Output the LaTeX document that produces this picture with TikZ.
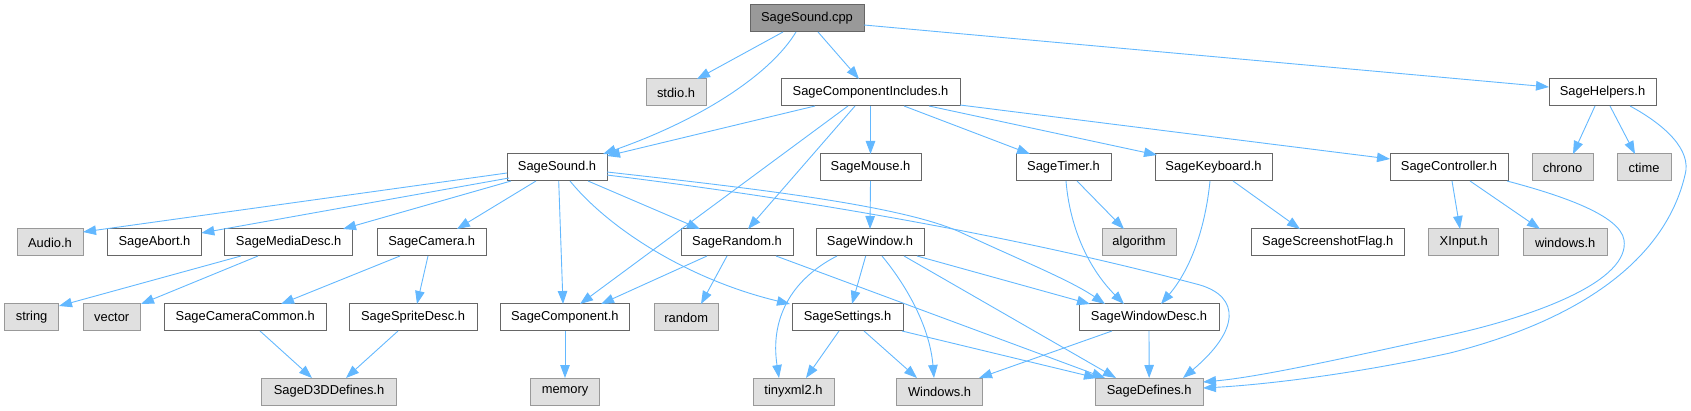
\documentclass[tikz,border=0pt]{standalone}
\usepackage{fontspec}
\setmainfont{Liberation Sans}
\usetikzlibrary{arrows.meta,calc}
\definecolor{edgec}{HTML}{63B8FF}
\definecolor{bordc}{HTML}{666666}
\definecolor{extb}{HTML}{999999}
\definecolor{extf}{HTML}{E0E0E0}
\definecolor{rootf}{HTML}{999999}
\begin{document}
\begin{tikzpicture}[x=1pt,y=-1pt,
  box/.style={draw=bordc, fill=white, line width=1pt, rectangle, inner sep=0pt, outer sep=0pt,
    anchor=north west, minimum height=27pt, font=\fontsize{12.9}{15}\selectfont, text=black},
  ext/.style={box, draw=extb, fill=extf},
  root/.style={box, fill=rootf},
  edge/.style={draw=edgec, line width=0.9pt, -{Triangle[length=13pt,width=9.5pt]}}]
\useasboundingbox (0,0) rectangle (1691,411);
% row 0
\node[root, minimum width=114pt] (cpp) at (750,5) {SageSound.cpp};
% row 1
\node[ext, minimum width=60pt] (stdio) at (646,79) {stdio.h};
\node[box, minimum width=179pt] (inc) at (781,79) {SageComponentIncludes.h};
\node[box, minimum width=107pt] (helpers) at (1549,79) {SageHelpers.h};
% row 2
\node[box, minimum width=100pt] (sound) at (507,154) {SageSound.h};
\node[box, minimum width=101pt] (mouse) at (820,154) {SageMouse.h};
\node[box, minimum width=95pt] (timer) at (1016,154) {SageTimer.h};
\node[box, minimum width=117pt] (keyboard) at (1155,154) {SageKeyboard.h};
\node[box, minimum width=118pt] (controller) at (1390,154) {SageController.h};
\node[ext, minimum width=61pt] (chrono) at (1532,154) {chrono};
\node[ext, minimum width=54pt] (ctime) at (1617,154) {ctime};
% row 3
\node[ext, minimum width=66pt] (audio) at (17,229) {Audio.h};
\node[box, minimum width=94pt] (abort) at (107.5,229) {SageAbort.h};
\node[box, minimum width=128.2pt] (media) at (224.6,229) {SageMediaDesc.h};
\node[box, minimum width=108.7pt] (camera) at (377.3,229) {SageCamera.h};
\node[box, minimum width=112pt] (srandom) at (681,229) {SageRandom.h};
\node[box, minimum width=108pt] (window) at (816,229) {SageWindow.h};
\node[ext, minimum width=74pt] (algorithm) at (1102,229) {algorithm};
\node[box, minimum width=153.5pt] (screenshot) at (1251,229) {SageScreenshotFlag.h};
\node[ext, minimum width=70pt] (xinput) at (1428.7,229) {XInput.h};
\node[ext, minimum width=83.7pt] (windowsl) at (1523.3,229) {windows.h};
% row 4
\node[ext, minimum width=54pt] (string) at (4.6,304) {string};
\node[ext, minimum width=57.4pt] (vector) at (83,304) {vector};
\node[box, minimum width=161.5pt] (camcommon) at (164.5,304) {SageCameraCommon.h};
\node[box, minimum width=128pt] (sprite) at (349,304) {SageSpriteDesc.h};
\node[box, minimum width=129.6pt] (component) at (500,304) {SageComponent.h};
\node[ext, minimum width=64.4pt] (random) at (654,304) {random};
\node[box, minimum width=111pt] (settings) at (792,304) {SageSettings.h};
\node[box, minimum width=140pt] (windesc) at (1079,304) {SageWindowDesc.h};
% row 5
\node[ext, minimum width=134.7pt] (d3d) at (261.7,378) {SageD3DDefines.h};
\node[ext, minimum width=68.8pt] (memory) at (530.7,378) {memory};
\node[ext, minimum width=81pt] (tinyxml) at (753,378) {tinyxml2.h};
\node[ext, minimum width=86.5pt] (Windows) at (896.3,378) {Windows.h};
\node[ext, minimum width=107.7pt] (defines) at (1095.3,378) {SageDefines.h};

% edges from SageSound.cpp
\draw[edge] ($(cpp.north west)+(33,27)$) -- ($(stdio.north west)+(51,0)$);
\draw[edge] ($(cpp.north west)+(46,27)$) .. controls (770,75) and (700,120) .. ($(sound.north west)+(96,0)$);
\draw[edge] ($(cpp.north west)+(68,27)$) -- ($(inc.north west)+(78,0)$);
\draw[edge] ($(cpp.north west)+(114,20)$) -- ($(helpers.north west)+(0,8)$);
% edges from SageComponentIncludes.h
\draw[edge] ($(inc.north west)+(34,27)$) -- ($(sound.north west)+(100,2)$);
\draw[edge] ($(inc.north west)+(67,27)$) -- ($(component.north west)+(80,0)$);
\draw[edge] ($(inc.north west)+(74,27)$) -- ($(srandom.north west)+(67,0)$);
\draw[edge] (inc.south) -- (mouse.north);
\draw[edge] ($(inc.north west)+(123,27)$) -- ($(timer.north west)+(14,0)$);
\draw[edge] ($(inc.north west)+(148,27)$) -- ($(keyboard.north west)+(2,1)$);
\draw[edge] ($(inc.north west)+(179,26)$) -- ($(controller.north west)+(0,5)$);
% edges from SageHelpers.h
\draw[edge] ($(helpers.north west)+(46,27)$) -- ($(chrono.north west)+(41,0)$);
\draw[edge] ($(helpers.north west)+(61,27)$) -- ($(ctime.north west)+(18,0)$);
\draw[edge] ($(helpers.north west)+(81,27)$) .. controls (1665,125) and (1692,150) .. (1685,175)
  .. controls (1665,260) and (1580,320) .. (1450,353)
  .. controls (1350,375) and (1260,385) .. ($(defines.north east)+(0,10)$);
% edges from SageTimer.h
\draw[edge] ($(timer.north west)+(61,27)$) -- ($(algorithm.north west)+(22,0)$);
\draw[edge] ($(timer.north west)+(50,27)$) .. controls (1070,230) and (1090,270) .. ($(windesc.north west)+(45,0)$);
% edges from SageKeyboard.h
\draw[edge] ($(keyboard.north west)+(78,27)$) -- ($(screenshot.north west)+(49,0)$);
\draw[edge] ($(keyboard.north west)+(55,27)$) .. controls (1205,230) and (1190,270) .. ($(windesc.north west)+(82,0)$);
% edges from SageController.h
\draw[edge] ($(controller.north west)+(62,27)$) -- ($(xinput.north west)+(31.3,0)$);
\draw[edge] ($(controller.north west)+(80,27)$) -- ($(windowsl.north west)+(16.7,0)$);
\draw[edge] ($(controller.north west)+(117,27)$) .. controls (1560,195) and (1620,215) .. (1624,240)
  .. controls (1630,280) and (1540,315) .. (1450,335)
  .. controls (1350,357) and (1260,377) .. ($(defines.north east)+(0,4)$);
% edges from SageSound.h
\draw[edge] ($(sound.north west)+(0,19)$) -- ($(audio.north west)+(66,3)$);
\draw[edge] ($(sound.north west)+(2,24)$) -- ($(abort.north west)+(93.8,4)$);
\draw[edge] ($(sound.north west)+(4,27)$) -- ($(media.north west)+(118.4,0)$);
\draw[edge] ($(sound.north west)+(29,27)$) -- ($(camera.north west)+(79.7,0)$);
\draw[edge] ($(sound.north west)+(51.7,27)$) -- ($(component.north west)+(63,0)$);
\draw[edge] ($(sound.north west)+(81,27)$) -- ($(srandom.north west)+(19,0)$);
\draw[edge] ($(sound.north west)+(63,27)$) .. controls (610,230) and (690,280) .. ($(settings.north west)+(-2,0)$);
\draw[edge] ($(sound.north west)+(100,18)$) .. controls (750,188) and (900,205) .. (960,232)
  .. controls (1020,260) and (1070,280) .. ($(windesc.north west)+(26,0)$);
\draw[edge] ($(sound.north west)+(100,21)$) .. controls (850,205) and (1050,245) .. (1200,285)
  .. controls (1240,297) and (1240,330) .. ($(defines.north west)+(87.7,0)$);
% edges from SageWindow.h
\draw[edge] ($(window.north west)+(21,27)$) .. controls (790,280) and (770,320) .. ($(tinyxml.north west)+(26,0)$);
\draw[edge] ($(window.north west)+(49.7,27)$) -- ($(settings.north west)+(60,0)$);
\draw[edge] ($(window.north west)+(66,27)$) .. controls (910,290) and (930,330) .. ($(Windows.north west)+(37.7,0)$);
\draw[edge] ($(window.north west)+(101,27)$) -- ($(windesc.north west)+(11,0)$);
\draw[edge] ($(window.north west)+(88,27)$) -- ($(defines.north west)+(20.7,0)$);
% SageMouse.h
\draw[edge] (mouse.south) -- (window.north);
% edges from SageRandom.h
\draw[edge] ($(srandom.north west)+(26,27)$) -- ($(component.north west)+(101,0)$);
\draw[edge] ($(srandom.north west)+(46,27)$) -- ($(random.north west)+(47,0)$);
\draw[edge] ($(srandom.north west)+(95,27)$) -- ($(defines.north west)+(9.7,0)$);
% edges from SageSettings.h
\draw[edge] ($(settings.north west)+(47,27)$) -- ($(tinyxml.north west)+(53,0)$);
\draw[edge] ($(settings.north west)+(72,27)$) -- ($(Windows.north west)+(20.7,0)$);
\draw[edge] ($(settings.north west)+(110,27)$) -- ($(defines.north west)+(1.7,0)$);
% edges from SageWindowDesc.h
\draw[edge] ($(windesc.north west)+(33,27)$) -- ($(Windows.north west)+(82.7,0)$);
\draw[edge] (windesc.south) -- (defines.north);
% SageMediaDesc.h
\draw[edge] ($(media.north west)+(16.4,27)$) -- ($(string.north west)+(54.4,2)$);
\draw[edge] ($(media.north west)+(33.4,27)$) -- ($(vector.north west)+(58,0)$);
% SageCamera.h
\draw[edge] ($(camera.north west)+(22.7,27)$) -- ($(camcommon.north west)+(116.5,0)$);
\draw[edge] ($(camera.north west)+(50.7,27)$) -- ($(sprite.north west)+(68,0)$);
% to SageD3DDefines.h
\draw[edge] ($(camcommon.north west)+(95.5,27)$) -- ($(d3d.north west)+(50.3,0)$);
\draw[edge] ($(sprite.north west)+(49,27)$) -- ($(d3d.north west)+(84.3,0)$);
% SageComponent.h
\draw[edge] ($(component.north west)+(65,27)$) -- ($(memory.north west)+(34.3,0)$);
\end{tikzpicture}
\end{document}
